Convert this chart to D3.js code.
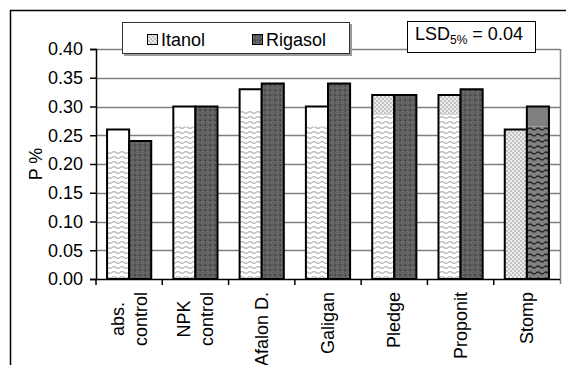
<!DOCTYPE html>
<html>
<head>
<meta charset="utf-8">
<script src="https://cdn.jsdelivr.net/npm/d3@7"></script>
<style>
  html, body { margin: 0; padding: 0; background: #fff; }
  svg { display: block; font-family: Arial, "Liberation Sans", sans-serif; }
</style>
</head>
<body>
<svg id="chart" width="566" height="365"></svg>
<script>
// Phosphorus content (P %) by herbicide treatment
const categories = [["abs.", "control"], ["NPK", "control"], ["Afalon D."], ["Galigan"], ["Pledge"], ["Proponit"], ["Stomp"]];
const seriesNames = ["Itanol", "Rigasol"];
const itanol  = [0.26, 0.30, 0.33, 0.30, 0.32, 0.32, 0.26];
const rigasol = [0.24, 0.30, 0.34, 0.34, 0.32, 0.33, 0.30];
const yTicks = [0.00, 0.05, 0.10, 0.15, 0.20, 0.25, 0.30, 0.35, 0.40];
const lsdValue = 0.04;

const svg = d3.select("#chart");
const W = 566, H = 365;
const plot = { left: 96, right: 560, top: 49, bottom: 279 };
const FS = 18;

const catKeys = categories.map(c => c.join(" "));
const x0 = d3.scaleBand().domain(catKeys).range([plot.left, plot.right]).paddingInner(0).paddingOuter(0);
const x1 = d3.scaleBand().domain(seriesNames).range([0, x0.bandwidth()]).paddingInner(0).paddingOuter(0.5);
const y = d3.scaleLinear().domain([0, 0.40]).range([plot.bottom, plot.top]);

// ---- fill patterns ----
const defs = svg.append("defs");

// light wavy lines on white
const pWave = defs.append("pattern").attr("id", "wave").attr("patternUnits", "userSpaceOnUse")
  .attr("width", 8).attr("height", 5);
pWave.append("rect").attr("width", 8).attr("height", 5).attr("fill", "#ffffff");
pWave.append("path").attr("d", "M0,2.5 Q2,0.8 4,2.5 T8,2.5").attr("fill", "none")
  .attr("stroke", "#b4b4b4").attr("stroke-width", 1.2);

// light dotted checker
const pLight = defs.append("pattern").attr("id", "lightdots").attr("patternUnits", "userSpaceOnUse")
  .attr("width", 4).attr("height", 4);
pLight.append("rect").attr("width", 4).attr("height", 4).attr("fill", "#ececec");
pLight.append("rect").attr("width", 2).attr("height", 2).attr("fill", "#c4c4c4");
pLight.append("rect").attr("x", 2).attr("y", 2).attr("width", 2).attr("height", 2).attr("fill", "#c4c4c4");

// dark dotted checker
const pDark = defs.append("pattern").attr("id", "darkdots").attr("patternUnits", "userSpaceOnUse")
  .attr("width", 5).attr("height", 5);
pDark.append("rect").attr("width", 5).attr("height", 5).attr("fill", "#565656");
pDark.append("circle").attr("cx", 2.5).attr("cy", 2.5).attr("r", 1.4).attr("fill", "none")
  .attr("stroke", "#7c7c7c").attr("stroke-width", 0.9);
pDark.append("rect").attr("x", 0).attr("y", 0).attr("width", 1).attr("height", 1).attr("fill", "#3c3c3c");

// dark wavy lines on mid grey
const pDarkWave = defs.append("pattern").attr("id", "darkwave").attr("patternUnits", "userSpaceOnUse")
  .attr("width", 8).attr("height", 6);
pDarkWave.append("rect").attr("width", 8).attr("height", 6).attr("fill", "#828282");
pDarkWave.append("path").attr("d", "M0,3 Q2,1.2 4,3 T8,3").attr("fill", "none")
  .attr("stroke", "#2a2a2a").attr("stroke-width", 1.6);

// ---- outer frame ----
svg.append("rect").attr("x", 10.5).attr("y", 10.5).attr("width", W + 20).attr("height", H + 20)
  .attr("fill", "none").attr("stroke", "#000").attr("stroke-width", 1.5);

// ---- gridlines & plot border ----
const g = svg.append("g");
g.selectAll("line.grid").data(yTicks.filter(t => t > 0)).join("line")
  .attr("x1", plot.left).attr("x2", plot.right)
  .attr("y1", d => Math.round(y(d)) + 0.5).attr("y2", d => Math.round(y(d)) + 0.5)
  .attr("stroke", "#808080").attr("stroke-width", 1.5);
g.append("line").attr("x1", plot.right + 0.5).attr("x2", plot.right + 0.5)
  .attr("y1", plot.top).attr("y2", plot.bottom + 5)
  .attr("stroke", "#808080").attr("stroke-width", 1.5);

// ---- bars ----
const topBand = 20; // plain band at the top of patterned bars
categories.forEach((cat, i) => {
  const key = catKeys[i];
  const name = cat.join(" ");
  [itanol[i], rigasol[i]].forEach((v, s) => {
    const bx = x0(key) + x1(seriesNames[s]);
    const bw = x1.bandwidth();
    const yt = y(v), yb = y(0);
    const bar = g.append("g");
    if (s === 0) {
      if (name === "Stomp") {
        bar.append("rect").attr("x", bx).attr("y", yt).attr("width", bw).attr("height", yb - yt).attr("fill", "url(#lightdots)");
      } else {
        const topFill = (name === "Pledge" || name === "Proponit") ? "url(#lightdots)" : "#ffffff";
        bar.append("rect").attr("x", bx).attr("y", yt).attr("width", bw).attr("height", topBand).attr("fill", topFill);
        bar.append("rect").attr("x", bx).attr("y", yt + topBand).attr("width", bw).attr("height", yb - yt - topBand).attr("fill", "url(#wave)");
      }
    } else {
      if (name === "Stomp") {
        bar.append("rect").attr("x", bx).attr("y", yt).attr("width", bw).attr("height", topBand).attr("fill", "#808080");
        bar.append("rect").attr("x", bx).attr("y", yt + topBand).attr("width", bw).attr("height", yb - yt - topBand).attr("fill", "url(#darkwave)");
      } else {
        bar.append("rect").attr("x", bx).attr("y", yt).attr("width", bw).attr("height", yb - yt).attr("fill", "url(#darkdots)");
      }
    }
    bar.append("rect").attr("x", bx).attr("y", yt).attr("width", bw).attr("height", yb - yt)
      .attr("fill", "none").attr("stroke", "#000").attr("stroke-width", 2);
  });
});

// ---- y axis ----
const yAxis = d3.axisLeft(y).tickValues(yTicks).tickFormat(d3.format(".2f")).tickSize(6).tickPadding(7);
const ya = svg.append("g").attr("transform", `translate(${plot.left},0)`).call(yAxis);
ya.select(".domain").attr("stroke", "#000").attr("stroke-width", 1.5);
ya.selectAll(".tick line").attr("stroke", "#000").attr("stroke-width", 1.5);
ya.selectAll(".tick text").attr("font-size", FS).attr("fill", "#000")
  .attr("font-family", "Arial, 'Liberation Sans', sans-serif");

// ---- x axis ----
svg.append("line").attr("x1", plot.left).attr("x2", plot.right).attr("y1", plot.bottom + 0.5).attr("y2", plot.bottom + 0.5)
  .attr("stroke", "#000").attr("stroke-width", 1.5);
const bounds = catKeys.map(k => x0(k));
svg.selectAll("line.xtick").data(bounds).join("line")
  .attr("x1", d => d).attr("x2", d => d).attr("y1", plot.bottom).attr("y2", plot.bottom + 6)
  .attr("stroke", "#000").attr("stroke-width", 1.5);

// rotated category labels, end-aligned just below the axis
const labelEnd = 292;
categories.forEach((cat, i) => {
  const cx = x0(catKeys[i]) + x0.bandwidth() / 2;
  const lbl = svg.append("g");
  const texts = cat.map(line => lbl.append("text").text(line)
    .attr("font-size", FS).attr("fill", "#000"));
  if (cat.length === 1) {
    texts[0].attr("text-anchor", "end")
      .attr("transform", `translate(${cx + 6},${labelEnd}) rotate(-90)`);
  } else {
    const maxLen = d3.max(texts, t => t.node().getComputedTextLength());
    const offs = [-5, 18];
    texts.forEach((t, j) => t.attr("text-anchor", "middle")
      .attr("transform", `translate(${cx + offs[j]},${labelEnd + maxLen / 2}) rotate(-90)`));
  }
});

// y axis title
svg.append("text").text("P %").attr("font-size", FS).attr("text-anchor", "middle")
  .attr("transform", `translate(42,${(plot.top + plot.bottom) / 2}) rotate(-90)`);

// ---- legend ----
const leg = svg.append("g");
leg.append("rect").attr("x", 124).attr("y", 24).attr("width", 228).attr("height", 32).attr("fill", "#9a9a9a");
leg.append("rect").attr("x", 122.5).attr("y", 22.5).attr("width", 227).attr("height", 31)
  .attr("fill", "#fff").attr("stroke", "#333").attr("stroke-width", 1);
const legItems = [
  { name: seriesNames[0], fill: "url(#lightdots)", sx: 147, tx: 161 },
  { name: seriesNames[1], fill: "url(#darkdots)", sx: 252, tx: 266 }
];
legItems.forEach(it => {
  leg.append("rect").attr("x", it.sx + 0.5).attr("y", 34.5).attr("width", 10).attr("height", 10)
    .attr("fill", it.fill).attr("stroke", "#000").attr("stroke-width", 1);
  leg.append("text").text(it.name).attr("x", it.tx).attr("y", 45.5).attr("font-size", FS);
});

// ---- LSD box ----
const lsd = svg.append("g");
lsd.append("rect").attr("x", 407.5).attr("y", 21.5).attr("width", 128).attr("height", 31)
  .attr("fill", "#fff").attr("stroke", "#000").attr("stroke-width", 1);
const lt = lsd.append("text").attr("x", 415).attr("y", 40).attr("font-size", FS);
lt.append("tspan").text("LSD");
lt.append("tspan").text("5%").attr("font-size", 12).attr("dy", 4);
lt.append("tspan").text(" = " + d3.format(".2f")(lsdValue)).attr("dy", -4);
</script>
</body>
</html>
